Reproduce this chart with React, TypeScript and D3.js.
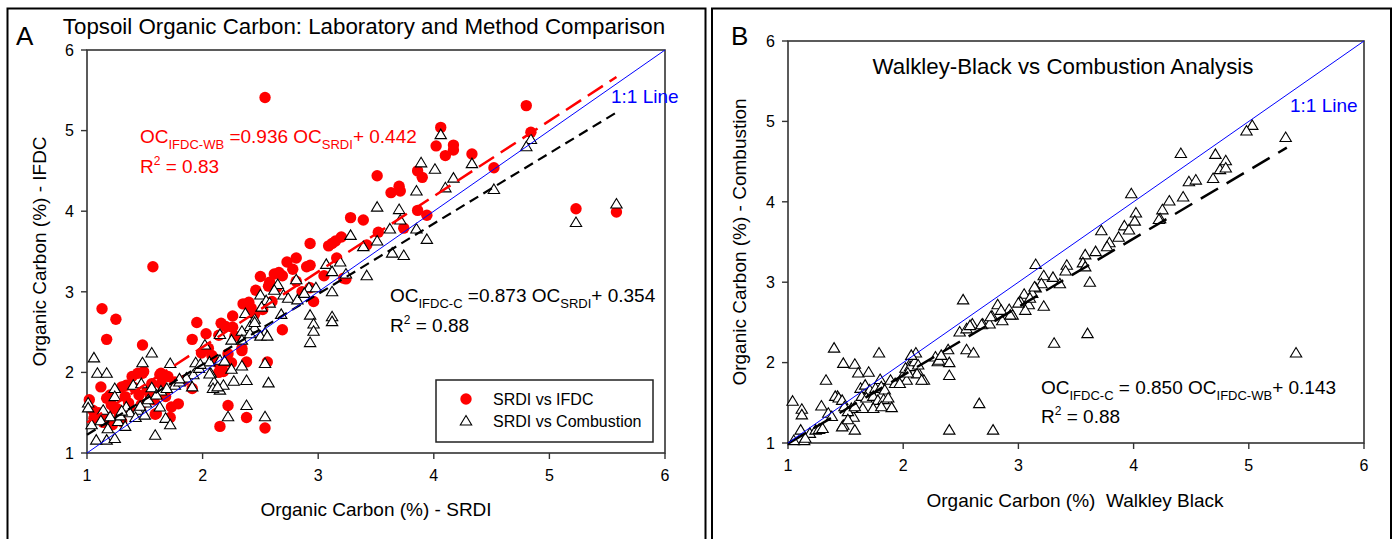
import React from "react";
import * as d3 from "d3";

type Pt = [number, number];

// Panel A: SRDI organic carbon (x) against IFDC Walkley-Black (y)
const srdiVsIfdc: Pt[] = [
  [2.54, 5.41], [4.80, 5.31], [4.06, 5.04], [4.84, 4.98], [4.02, 4.81], [4.17, 4.82], [4.17, 4.76], [4.10, 4.69], [4.33, 4.71], [4.52, 4.54],
  [3.51, 4.44], [3.86, 4.50], [3.90, 4.42], [3.63, 4.23], [3.70, 4.31], [3.71, 4.25], [3.86, 4.01], [3.94, 3.95], [5.23, 4.03], [5.58, 3.99],
  [3.28, 3.92], [3.39, 3.89], [3.74, 3.79], [3.52, 3.74], [3.42, 3.58], [2.93, 3.60], [3.09, 3.57], [3.12, 3.60], [3.15, 3.63], [3.20, 3.68],
  [3.16, 3.42], [2.81, 3.42], [2.73, 3.37], [1.57, 3.31], [2.90, 3.31], [2.93, 3.33], [2.50, 3.19], [2.62, 3.22], [2.66, 3.24], [2.69, 3.20],
  [2.81, 3.13], [2.57, 3.07], [3.24, 3.16], [2.46, 3.02], [2.96, 2.88], [2.93, 3.05], [2.35, 2.85], [2.40, 2.87], [2.42, 2.80], [1.13, 2.79],
  [1.25, 2.66], [2.26, 2.70], [1.95, 2.62], [2.69, 2.53], [1.17, 2.41], [2.14, 2.46], [1.91, 2.41], [2.16, 2.61], [2.20, 2.57], [2.26, 2.56],
  [2.03, 2.48], [1.48, 2.34], [2.34, 2.30], [2.22, 2.23], [2.56, 2.13], [2.38, 2.13], [2.13, 2.12], [2.18, 2.01], [1.64, 1.99], [1.48, 1.99],
  [1.39, 1.95], [1.91, 1.80], [1.79, 1.61], [2.22, 1.59], [1.72, 1.44], [2.38, 1.44], [2.15, 1.33], [2.54, 1.31], [1.02, 1.66], [1.12, 1.82],
  [1.30, 1.82], [1.20, 1.72], [1.07, 1.44], [1.24, 1.55], [1.59, 1.48], [1.05, 1.53], [1.06, 1.43], [1.17, 1.68], [1.21, 1.60], [1.16, 1.45],
  [1.26, 1.55], [1.33, 1.70], [1.30, 1.39], [1.41, 1.81], [1.44, 1.99], [1.49, 2.01], [1.56, 1.86], [1.60, 1.49], [1.55, 1.70], [1.63, 1.97],
  [1.64, 1.86], [1.70, 1.95], [1.68, 1.70], [1.73, 1.57], [1.99, 2.24], [2.08, 2.21], [2.17, 2.09], [2.14, 2.00], [2.25, 2.12], [2.34, 2.27],
  [1.36, 1.62], [1.45, 1.72], [1.52, 1.78], [1.10, 1.50], [1.14, 1.38], [1.28, 1.47], [1.38, 1.52], [1.47, 1.60], [1.58, 1.66], [1.66, 1.78],
  [1.76, 1.88], [1.84, 1.90], [1.22, 1.35], [1.34, 1.84], [2.05, 2.30], [2.28, 2.45], [2.45, 2.72], [2.52, 2.78], [2.60, 2.88], [2.64, 3.05],
  [2.78, 3.28], [2.86, 3.00], [3.05, 3.20], [3.22, 3.17], [2.58, 3.12],
];

// Panel A: SRDI organic carbon (x) against IFDC combustion (y)
const srdiVsCombustion: Pt[] = [
  [4.06, 4.95], [4.84, 4.89], [4.80, 4.80], [3.89, 4.60], [4.01, 4.52], [4.17, 4.41], [4.33, 4.59], [4.10, 4.29], [4.52, 4.27], [3.85, 4.25],
  [3.51, 4.05], [3.70, 4.02], [3.71, 3.89], [3.62, 3.78], [3.85, 3.78], [3.94, 3.65], [3.28, 3.70], [3.39, 3.56], [3.51, 3.63], [3.64, 3.48],
  [3.74, 3.45], [5.23, 3.86], [5.58, 4.09], [3.07, 3.34], [3.19, 3.37], [3.12, 3.25], [3.24, 3.22], [3.42, 3.20], [2.81, 3.15], [2.65, 3.09],
  [2.92, 3.05], [3.12, 3.00], [2.50, 2.96], [2.62, 3.02], [2.70, 2.96], [2.55, 2.89], [2.58, 2.86], [2.93, 2.71], [2.96, 2.60], [2.96, 2.51],
  [2.93, 2.37], [3.12, 2.69], [3.12, 2.63], [2.37, 2.73], [2.45, 2.66], [2.41, 2.57], [2.45, 2.55], [2.34, 2.51], [2.54, 2.49], [2.50, 2.45],
  [2.56, 2.45], [2.02, 2.34], [2.06, 2.13], [2.15, 2.15], [2.25, 2.04], [2.34, 2.08], [2.10, 1.88], [2.15, 1.78], [2.18, 1.84], [2.27, 1.89],
  [2.38, 1.90], [2.54, 2.11], [2.57, 1.87], [2.38, 1.59], [2.22, 1.45], [2.54, 1.45], [1.94, 2.12], [2.07, 1.99], [1.92, 1.97], [1.91, 1.82],
  [1.06, 2.18], [1.09, 1.99], [1.17, 1.99], [1.56, 2.24], [1.48, 2.12], [1.72, 2.11], [1.24, 1.80], [1.24, 1.70], [1.01, 1.62], [1.01, 1.56],
  [1.40, 1.84], [1.47, 1.86], [1.56, 1.81], [1.64, 1.77], [1.51, 1.62], [1.44, 1.53], [1.34, 1.57], [1.14, 1.53], [1.20, 1.45], [1.27, 1.39],
  [1.33, 1.33], [1.04, 1.35], [1.08, 1.16], [1.17, 1.16], [1.24, 1.18], [1.59, 1.22], [1.68, 1.43], [1.72, 1.35], [1.63, 1.57], [1.76, 1.84],
  [2.09, 1.80], [2.13, 1.82], [2.19, 2.14], [2.06, 1.98], [2.25, 2.40], [2.34, 2.40], [2.41, 2.48], [2.45, 2.62], [2.51, 2.81], [2.15, 2.47],
  [1.29, 1.46], [1.37, 1.50], [1.46, 1.58], [1.53, 1.66], [1.60, 1.72], [1.69, 1.80], [1.80, 1.88], [1.86, 1.93], [1.97, 2.05], [1.12, 1.40],
  [1.18, 1.30], [1.30, 1.52], [1.42, 1.44], [1.50, 1.47], [1.80, 1.92], [1.98, 2.10], [2.68, 2.72], [2.74, 2.92], [2.82, 2.90], [2.88, 2.98],
  [2.98, 3.05],
];

// Panel B: Walkley-Black (x) against combustion (y)
const wbVsCombustion: Pt[] = [
  [5.03, 4.95], [4.98, 4.88], [5.32, 4.80], [4.41, 4.60], [4.71, 4.59], [4.80, 4.51], [4.75, 4.40], [4.80, 4.42], [4.69, 4.29], [4.48, 4.25],
  [4.54, 4.27], [4.43, 4.06], [3.98, 4.10], [4.31, 4.01], [4.25, 3.90], [4.02, 3.86], [4.23, 3.79], [4.01, 3.76], [3.92, 3.70], [3.96, 3.65],
  [3.72, 3.64], [3.87, 3.56], [3.79, 3.49], [3.77, 3.44], [3.67, 3.38], [3.58, 3.34], [3.56, 3.24], [3.58, 3.19], [3.42, 3.21], [3.41, 3.14],
  [3.15, 3.22], [3.62, 3.00], [3.30, 3.06], [3.22, 3.08], [3.36, 2.98], [3.20, 2.98], [3.15, 2.93], [3.12, 2.86], [3.05, 2.85], [3.02, 2.75],
  [3.09, 2.72], [3.06, 2.65], [3.22, 2.70], [2.82, 2.72], [2.92, 2.66], [2.85, 2.65], [2.77, 2.58], [2.95, 2.59], [2.86, 2.52], [2.52, 2.78],
  [2.60, 2.48], [2.69, 2.48], [2.75, 2.48], [2.49, 2.38], [2.55, 2.42], [3.60, 2.36], [3.31, 2.24], [2.39, 2.16], [2.55, 2.16], [2.61, 2.12],
  [2.40, 2.00], [2.40, 1.84], [2.66, 1.49], [2.40, 1.16], [2.78, 1.16], [5.41, 2.12], [2.28, 2.07], [2.30, 2.01], [2.11, 2.12], [2.07, 2.01],
  [2.13, 1.88], [2.18, 1.78], [1.40, 2.18], [1.79, 2.12], [1.48, 1.99], [1.58, 1.98], [1.33, 1.78], [1.61, 1.87], [1.70, 1.88], [1.04, 1.52],
  [1.12, 1.42], [1.12, 1.35], [1.11, 1.16], [1.14, 1.03], [1.05, 1.03], [1.29, 1.46], [1.43, 1.58], [1.58, 1.16], [1.48, 1.22], [1.57, 1.32],
  [1.63, 1.68], [1.67, 1.72], [1.71, 1.66], [1.76, 1.68], [1.80, 1.79], [1.81, 1.70], [1.84, 1.66], [1.64, 1.58], [1.68, 1.56], [1.74, 1.58],
  [1.78, 1.53], [1.83, 1.54], [1.87, 1.56], [1.65, 1.43], [1.74, 1.43], [1.81, 1.45], [1.90, 1.44], [1.89, 1.78], [1.93, 1.74], [1.99, 1.82],
  [2.03, 1.78], [1.97, 1.74], [2.02, 1.93], [2.06, 1.95], [2.10, 2.01], [2.07, 2.09], [2.13, 1.97], [2.12, 1.86], [2.16, 1.78], [2.04, 1.87],
  [2.31, 2.03], [2.33, 2.09], [1.41, 1.58], [1.44, 1.56], [1.47, 1.53], [1.49, 1.45], [1.55, 1.43], [1.52, 1.39], [1.58, 1.45], [1.47, 1.20],
  [1.52, 1.29], [1.35, 1.37], [1.38, 1.33], [1.19, 1.12], [1.15, 1.06], [1.24, 1.16], [1.27, 1.17], [1.30, 1.18], [2.58, 2.46], [2.68, 2.47],
  [2.76, 2.57], [2.93, 2.59], [3.00, 2.74], [3.10, 2.80], [3.14, 2.94], [4.22, 3.78],
];

// Regression fits: slope, intercept and the x range they span
const fitIfdcWb = { slope: 0.936, intercept: 0.442, r2: 0.83, from: 1.0, to: 5.58 };
const fitIfdcC = { slope: 0.873, intercept: 0.354, r2: 0.88, from: 1.0, to: 5.58 };
const fitWbC = { slope: 0.85, intercept: 0.143, r2: 0.88, from: 1.0, to: 5.33 };

const axisDomain: [number, number] = [1, 6];
const tickValues = [1, 2, 3, 4, 5, 6];

const FONT = "Liberation Sans, Arial, Helvetica, sans-serif";
const RED = "#ff0000";
const BLUE = "#0000ff";

type Box = { left: number; right: number; top: number; bottom: number };

function trianglePath(cx: number, cy: number) {
  return `M${cx},${cy - 5.5}L${cx + 5.7},${cy + 4}L${cx - 5.7},${cy + 4}Z`;
}

function Frame({ box, x, y }: { box: Box; x: d3.ScaleLinear<number, number>; y: d3.ScaleLinear<number, number> }) {
  return (
    <g>
      <rect x={box.left} y={box.top} width={box.right - box.left} height={box.bottom - box.top} fill="none" stroke="#333" strokeWidth={1.6} />
      {tickValues.map((t) => (
        <g key={"x" + t}>
          <line x1={x(t)} x2={x(t)} y1={box.bottom} y2={box.bottom + 6} stroke="#333" strokeWidth={1.4} />
          <text x={x(t)} y={box.bottom + 28} textAnchor="middle" fontSize={16} fill="#000">{t}</text>
        </g>
      ))}
      {tickValues.map((t) => (
        <g key={"y" + t}>
          <line x1={box.left - 6} x2={box.left} y1={y(t)} y2={y(t)} stroke="#333" strokeWidth={1.4} />
          <text x={box.left - 13} y={y(t)} dy="0.36em" textAnchor="end" fontSize={16} fill="#000">{t}</text>
        </g>
      ))}
    </g>
  );
}

function fitLine(fit: { slope: number; intercept: number; from: number; to: number }, x: d3.ScaleLinear<number, number>, y: d3.ScaleLinear<number, number>) {
  const pts: Pt[] = [fit.from, fit.to].map((v) => [v, fit.slope * v + fit.intercept]);
  return d3.line<Pt>().x((d) => x(d[0])).y((d) => y(d[1]))(pts) || "";
}

function oneToOne(x: d3.ScaleLinear<number, number>, y: d3.ScaleLinear<number, number>) {
  const pts: Pt[] = [[1, 1], [6, 6]];
  return d3.line<Pt>().x((d) => x(d[0])).y((d) => y(d[1]))(pts) || "";
}

function Equation({ x, y, color, lhsSub, coef, rhsSub, intercept, r2, gap, eqSpace }: {
  x: number; y: number; color: string; lhsSub: string; coef: number; rhsSub: string; intercept: number; r2: number; gap: number; eqSpace: string;
}) {
  return (
    <g fill={color} fontSize={19}>
      <text x={x} y={y}>
        OC<tspan fontSize={13} dy={6}>{lhsSub}</tspan>
        <tspan dy={-6}>{` =${eqSpace}${coef.toFixed(3)} OC`}</tspan>
        <tspan fontSize={13} dy={6}>{rhsSub}</tspan>
        <tspan dy={-6}>{`+ ${intercept.toFixed(3)}`}</tspan>
      </text>
      <text x={x} y={y + gap}>
        R<tspan fontSize={12} dy={-8}>2</tspan>
        <tspan dy={8}>{` = ${r2.toFixed(2)}`}</tspan>
      </text>
    </g>
  );
}

function PanelA() {
  const box: Box = { left: 87, right: 665, top: 50, bottom: 453 };
  const x = d3.scaleLinear().domain(axisDomain).range([box.left, box.right]);
  const y = d3.scaleLinear().domain(axisDomain).range([box.bottom, box.top]);
  return (
    <g>
      <rect x={7.5} y={8.5} width={698} height={560} fill="none" stroke="#000" strokeWidth={2} />
      <text x={16} y={45} fontSize={26}>A</text>
      <text x={364} y={34} textAnchor="middle" fontSize={22.3}>Topsoil Organic Carbon: Laboratory and Method Comparison</text>
      <Frame box={box} x={x} y={y} />
      <text x={(box.left + box.right) / 2} y={516} textAnchor="middle" fontSize={19}>Organic Carbon (%) - SRDI</text>
      <text transform={`translate(46,${(box.top + box.bottom) / 2}) rotate(-90)`} textAnchor="middle" fontSize={19}>Organic Carbon (%) - IFDC</text>

      {srdiVsIfdc.map((d, i) => (
        <circle key={"c" + i} cx={x(d[0])} cy={y(d[1])} r={5.7} fill={RED} />
      ))}
      {srdiVsCombustion.map((d, i) => (
        <path key={"t" + i} d={trianglePath(x(d[0]), y(d[1]))} fill="#fff" stroke="#000" strokeWidth={1.1} />
      ))}

      <path d={fitLine(fitIfdcWb, x, y)} fill="none" stroke={RED} strokeWidth={2.5} strokeDasharray="18 8" />
      <path d={fitLine(fitIfdcC, x, y)} fill="none" stroke="#000" strokeWidth={2.2} strokeDasharray="10 6" />
      <path d={oneToOne(x, y)} fill="none" stroke={BLUE} strokeWidth={1} />
      <text x={611} y={103} fontSize={19} fill={BLUE}>1:1 Line</text>

      <Equation x={140} y={143} color={RED} lhsSub="IFDC-WB" coef={fitIfdcWb.slope} rhsSub="SRDI" intercept={fitIfdcWb.intercept} r2={fitIfdcWb.r2} gap={30} eqSpace="" />
      <Equation x={390} y={302} color="#000" lhsSub="IFDC-C" coef={fitIfdcC.slope} rhsSub="SRDI" intercept={fitIfdcC.intercept} r2={fitIfdcC.r2} gap={30} eqSpace="" />

      <g>
        <rect x={436} y={380} width={217} height={62} fill="#fff" stroke="#222" strokeWidth={1.5} />
        <circle cx={466} cy={399} r={5.7} fill={RED} />
        <path d={trianglePath(466, 421)} fill="#fff" stroke="#000" strokeWidth={1.1} />
        <text x={493} y={405} fontSize={16}>SRDI vs IFDC</text>
        <text x={493} y={427} fontSize={16}>SRDI vs Combustion</text>
      </g>
    </g>
  );
}

function PanelB() {
  const box: Box = { left: 788, right: 1364, top: 41, bottom: 443 };
  const x = d3.scaleLinear().domain(axisDomain).range([box.left, box.right]);
  const y = d3.scaleLinear().domain(axisDomain).range([box.bottom, box.top]);
  return (
    <g>
      <rect x={712} y={8.5} width={679} height={560} fill="none" stroke="#000" strokeWidth={2} />
      <text x={731} y={45} fontSize={26}>B</text>
      <Frame box={box} x={x} y={y} />
      <text x={1063} y={74} textAnchor="middle" fontSize={22.3}>Walkley-Black vs Combustion Analysis</text>
      <text x={1075} y={507} textAnchor="middle" fontSize={19} style={{ whiteSpace: "pre" }}>{"Organic Carbon (%)  Walkley Black"}</text>
      <text transform={`translate(746,${(box.top + box.bottom) / 2}) rotate(-90)`} textAnchor="middle" fontSize={19}>Organic Carbon (%) - Combustion</text>

      {wbVsCombustion.map((d, i) => (
        <path key={"b" + i} d={trianglePath(x(d[0]), y(d[1]))} fill="#fff" stroke="#000" strokeWidth={1.1} />
      ))}

      <path d={fitLine(fitWbC, x, y)} fill="none" stroke="#000" strokeWidth={2.5} strokeDasharray="20 10" />
      <path d={oneToOne(x, y)} fill="none" stroke={BLUE} strokeWidth={1} />
      <text x={1290} y={112} fontSize={19} fill={BLUE}>1:1 Line</text>

      <Equation x={1041} y={394} color="#000" lhsSub="IFDC-C" coef={fitWbC.slope} rhsSub="IFDC-WB" intercept={fitWbC.intercept} r2={fitWbC.r2} gap={29} eqSpace=" " />
    </g>
  );
}

export default function App() {
  return (
    <svg width={1394} height={539} fontFamily={FONT} style={{ position: "absolute", left: 0, top: 0, display: "block" }}>
      <rect width={1394} height={539} fill="#fff" />
      <PanelA />
      <PanelB />
    </svg>
  );
}
